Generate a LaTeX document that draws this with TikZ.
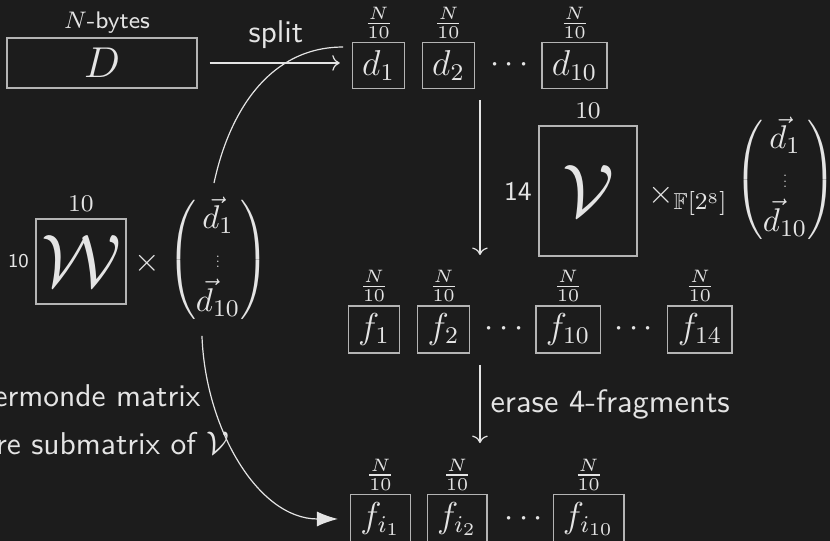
\documentclass[tikz,border=0pt]{standalone}
\usepackage{amsmath}
\usepackage{amssymb}
\usetikzlibrary{positioning,arrows.meta}
\definecolor{bgcol}{HTML}{1C1C1C}
\definecolor{fgcol}{HTML}{E4E4E4}
\definecolor{boxcol}{HTML}{B4B4B4}
\tikzset{
  frag/.style={draw=boxcol, text=fgcol, inner xsep=3.3pt, inner ysep=2.5pt, minimum height=15pt, font=\fontsize{11.5}{13}\selectfont},
  size/.style={text=fgcol, inner sep=1pt, font=\fontsize{8}{9}\selectfont},
  lbl/.style={text=fgcol, font=\sffamily\fontsize{10.5}{12}\selectfont},
  mth/.style={text=fgcol, inner sep=0pt, font=\fontsize{11}{13}\selectfont},
  mat/.style={draw=boxcol, text=fgcol, inner sep=0pt, font=\fontsize{24}{28}\selectfont},
  flow/.style={->, draw=fgcol},
}
\newcommand{\colvec}{\begin{pmatrix}\vec{d}_1\\ \scalebox{0.45}{$\vdots$}\\ \vec{d}_{10}\end{pmatrix}}
\begin{document}
\begin{tikzpicture}
\fill[bgcol] (0,0) rectangle (9.727,6.340);
\useasboundingbox (0,0) rectangle (9.727,6.340);
\clip (0,0) rectangle (9.727,6.340);

\node[draw=boxcol, text=fgcol, minimum width=2.227cm, minimum height=0.586cm, inner sep=0pt, font=\fontsize{15.5}{18}\selectfont] (D) at (1.195,5.602) {$D$};
\node[size] (nbytes) at (1.254,6.071) {$N$\textsf{-bytes}};
\node[lbl] (split) at (3.234,5.930) {split};

\foreach \i/\x/\lab in {1/4.436/d_1, 2/5.256/d_2, 10/6.733/d_{10}} {
    \node[frag] (d\i) at (\x,5.572) {$\lab$};
    \node[size, above=0pt of d\i] (nd\i) {$\frac{N}{10}$};
}
\node[mth] (ddots) at (6.0,5.572) {$\cdots$};
\draw[flow, shorten <=4pt, shorten >=4pt] (D.east) -- (D.east -| d1.west);

\node[mat, minimum width=1.148cm, minimum height=1.523cm] (V) at (6.891,4.102) {$\mathcal{V}$};
\node[size, inner sep=2pt, above=0pt of V] (vcols) {$10$};
\node[text=fgcol, font=\sffamily\fontsize{9}{10}\selectfont, inner sep=2pt, left=0pt of V] (vrows) {14};
\node[mth] (vtimes) at (8.063,3.996) {$\times_{\mathbb{F}[2^8]}$};
\node[mth] (vecV) at (9.20,4.231) {$\colvec$};

\node[mat, minimum width=1.055cm, minimum height=0.996cm] (W) at (0.949,3.276) {$\mathcal{W}$};
\node[size, inner sep=2pt, above=0pt of W] (wcols) {$10$};
\node[text=fgcol, font=\sffamily\fontsize{6.5}{8}\selectfont, inner sep=2pt, left=0pt of W] (wrows) {10};
\node[mth] (wtimes) at (1.723,3.259) {$\times$};
\node[mth] (vecW) at (2.555,3.293) {$\colvec$};

\foreach \i/\x in {1/4.383, 2/5.198, 10/6.657, 14/8.203} {
    \node[frag] (f\i) at (\x,2.479) {$f_{\i}$};
    \node[size, above=0pt of f\i] (nf\i) {$\frac{N}{10}$};
}
\node[mth] (fdots1) at (5.94,2.479) {$\cdots$};
\node[mth] (fdots2) at (7.46,2.479) {$\cdots$};

\foreach \i/\x in {1/4.459, 2/5.356, 10/6.897} {
    \node[frag] (g\i) at (\x,0.258) {$f_{i_{\i}}$};
    \node[size, above=0pt of g\i] (ng\i) {$\frac{N}{10}$};
}
\node[mth] (gdots) at (6.17,0.258) {$\cdots$};

\coordinate (a1) at (5.625,5.168);
\coordinate (a2) at (5.625,3.352);
\draw[flow] (a1) -- (a2);
\coordinate (b1) at (5.625,2.063);
\coordinate (b2) at (5.625,1.148);
\draw[flow] (b1) -- (b2) node[lbl, font=\sffamily\fontsize{10.8}{12}\selectfont, midway, right] (erase) {erase 4-fragments};

\coordinate (wup) at (2.508,4.195);
\coordinate (dleft) at (4.020,5.789);
\draw[fgcol] (wup) to[out=78,in=180] (dleft);
\coordinate (wdown) at (2.367,2.403);
\draw[fgcol, -{Latex[length=7pt,width=5pt]}, shorten >=4pt] (wdown) to[out=-88,in=180] (g1);

\node[lbl, anchor=base east] (vdm) at (2.473,1.574) {ermonde matrix};
\node[lbl, anchor=base east] (sub) at (2.813,1.008) {re submatrix of $\mathcal{V}$};
\end{tikzpicture}
\end{document}
